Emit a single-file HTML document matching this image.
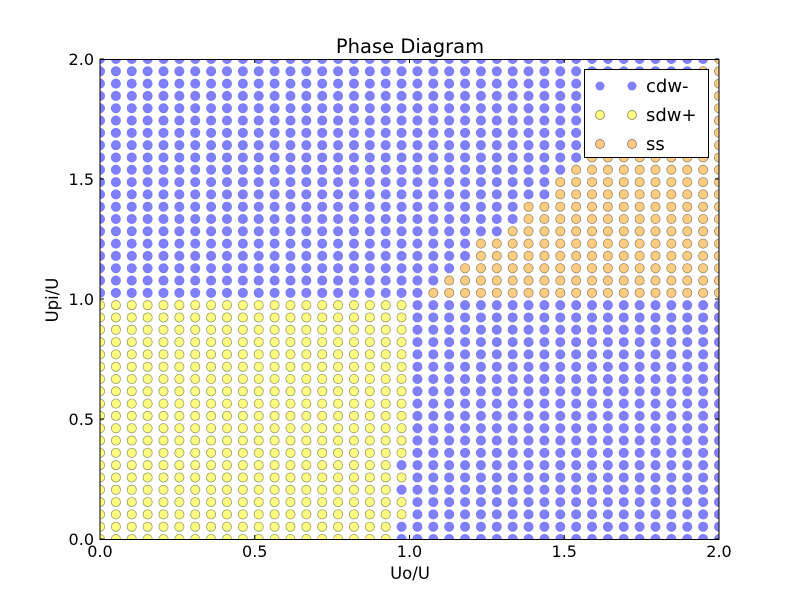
<!DOCTYPE html>
<html><head><meta charset="utf-8"><style>
body{margin:0;background:#fff;}
svg text{font-family:"DejaVu Sans","Liberation Sans",sans-serif;}
</style></head><body>
<svg id="chart" width="800" height="600" viewBox="0 0 800 600" xmlns="http://www.w3.org/2000/svg">
<defs><clipPath id="plotclip"><rect x="100" y="59.5" width="619" height="480"/></clipPath></defs>
<rect width="800" height="600" fill="#fff"/>
<g id="dots" clip-path="url(#plotclip)"></g>
<rect x="100" y="59.5" width="619" height="480" fill="none" stroke="#000" stroke-width="1"/>
<g id="axes"></g>
<text x="410" y="53" font-size="19.5" text-anchor="middle">Phase Diagram</text>
<text x="410" y="579" font-size="16.5" text-anchor="middle">Uo/U</text>
<text transform="translate(58,300) rotate(-90)" font-size="16.5" text-anchor="middle">Upi/U</text>
<g>
<rect x="584.5" y="69.5" width="124" height="88" fill="#fff" stroke="#000"/>
<g><circle cx="600" cy="86" r="4.5" fill="#7f7fff"/><circle cx="632" cy="86" r="4.5" fill="#7f7fff"/><text x="646" y="92" font-size="18">cdw-</text></g>
<g><circle cx="600" cy="115" r="4.5" fill="#ffff80" stroke="#9a9a6a"/><circle cx="632" cy="115" r="4.5" fill="#ffff80" stroke="#9a9a6a"/><text x="646" y="121" font-size="18">sdw+</text></g>
<g><circle cx="600" cy="144" r="4.5" fill="#ffcc80" stroke="#9a8a6a"/><circle cx="632" cy="144" r="4.5" fill="#ffcc80" stroke="#9a8a6a"/><text x="646" y="150" font-size="18">ss</text></g>
</g>
</svg>
<script>
const gridCount = 40;
const xTicks = [0, 0.5, 1.0, 1.5, 2.0];
const xTickLabels = ["0.0", "0.5", "1.0", "1.5", "2.0"];
const yTicks = [0, 0.5, 1.0, 1.5, 2.0];
const yTickLabels = ["0.0", "0.5", "1.0", "1.5", "2.0"];
const ssRows = [20,21,22,23,24,25,26,27,28,29,30,31,32,33,34,35,36,37,38,39];
const ssStartCol = [21,22,23,24,24,26,27,27,29,29,30,31,32,33,34,35,36,37,38,39];
const sdwMaxRow = 19;
const sdwMaxCol = 19;
const sdwCol19BlueRows = [0,1,4,6];

const X0=100,X1=719,Y0=539,Y1=59;
function xs(v){return X0+(v/2)*(X1-X0);}
function ys(v){return Y0-(v/2)*(Y0-Y1);}
const NS="http://www.w3.org/2000/svg";
const dots=document.getElementById('dots');
const axes=document.getElementById('axes');
function val(k){return 2*k/(gridCount-1);}
function phase(i,j){
  const r=ssRows.indexOf(j);
  if(r>=0 && i>=ssStartCol[r]) return 'ss';
  if(j<=sdwMaxRow){
    if(i<sdwMaxCol) return 'sdw';
    if(i===sdwMaxCol && sdwCol19BlueRows.indexOf(j)<0) return 'sdw';
  }
  return 'cdw';
}
const styles={cdw:['#7f7fff','#7a7af0'],sdw:['#ffff80','#9a9a6a'],ss:['#ffcc80','#9a8a6a']};
['cdw','sdw','ss'].forEach(p=>{
  for(let i=0;i<gridCount;i++)for(let j=0;j<gridCount;j++){
    if(phase(i,j)!==p)continue;
    const c=document.createElementNS(NS,'circle');
    
    
    c.setAttribute('cx',xs(val(i)));c.setAttribute('cy',ys(val(j)));
    c.setAttribute('r',4.6);c.setAttribute('fill',styles[p][0]);
    c.setAttribute('stroke',styles[p][1]);c.setAttribute('stroke-width',0.8);
    dots.appendChild(c);
  }
});
xTicks.forEach((t,k)=>{
  const x=xs(t);
  [[Y0,Y0-4],[Y1,Y1+4]].forEach(([a,b])=>{
    const l=document.createElementNS(NS,'line');
    
    
    l.setAttribute('x1',x);l.setAttribute('x2',x);l.setAttribute('y1',a);l.setAttribute('y2',b);l.setAttribute('stroke','#000');
    axes.appendChild(l);
  });
  const tx=document.createElementNS(NS,'text');
  
  
  tx.setAttribute('x',x);tx.setAttribute('y',557);tx.setAttribute('font-size',16);tx.setAttribute('text-anchor','middle');
  tx.textContent=xTickLabels[k];axes.appendChild(tx);
});
yTicks.forEach((t,k)=>{
  const y=ys(t);
  [[X0,X0+4],[X1,X1-4]].forEach(([a,b])=>{
    const l=document.createElementNS(NS,'line');
    
    
    l.setAttribute('x1',a);l.setAttribute('x2',b);l.setAttribute('y1',y);l.setAttribute('y2',y);l.setAttribute('stroke','#000');
    axes.appendChild(l);
  });
  const tx=document.createElementNS(NS,'text');
  
  
  tx.setAttribute('x',94);tx.setAttribute('y',y+6);tx.setAttribute('font-size',16);tx.setAttribute('text-anchor','end');
  tx.textContent=yTickLabels[k];axes.appendChild(tx);
});
</script>
</body></html>
